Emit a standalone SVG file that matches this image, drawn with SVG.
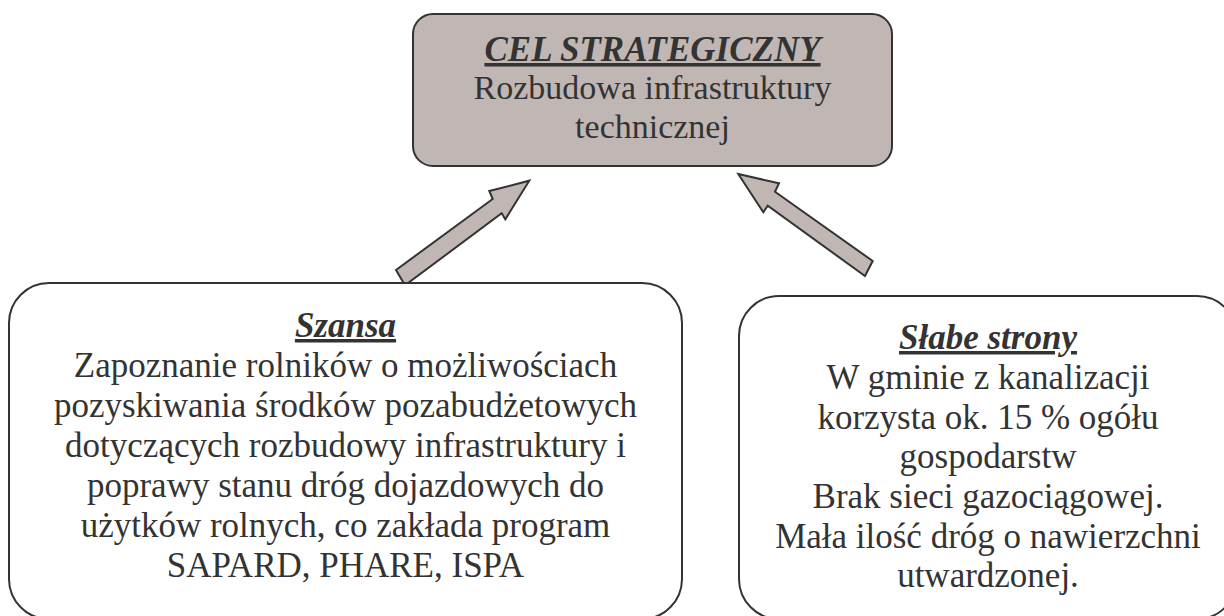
<svg xmlns="http://www.w3.org/2000/svg" width="1224" height="616" viewBox="0 0 1224 616">
<style>
.box{stroke:#333;stroke-width:2}
.goal{fill:#c0b7b4}
.plain{fill:#fff}
text{font-family:'Liberation Serif','DejaVu Serif',serif;font-size:35px;fill:#333;text-anchor:middle}
.s{font-size:34px}
.h{font-weight:bold;font-style:italic;text-decoration:underline;text-decoration-thickness:3px}
.arr{fill:#c0b7b4;stroke:#333;stroke-width:2;stroke-linejoin:miter}
</style>
<rect width="1224" height="616" fill="#fff"/>
<g id="connectors">
<polygon class="arr" points="396,270 492.7,199 489.3,191 529.3,180.7 505.3,219.3 501.7,213.3 405,285.3"/>
<polygon class="arr" points="738.3,174 779,183.3 775,191.7 872.7,261 865,276 767.7,205.7 763.3,212.3"/>
</g>
<g id="cel">
<rect class="box goal" x="413" y="14" width="479" height="152" rx="20"/>
<text class="h" x="652.5" y="61">CEL STRATEGICZNY</text>
<text class="s" x="652.5" y="99">Rozbudowa infrastruktury</text>
<text class="s" x="652.5" y="138">technicznej</text>
</g>
<g id="szansa">
<rect class="box plain" x="9" y="283" width="673" height="336" rx="40"/>
<text class="h" x="345.5" y="337">Szansa</text>
<text x="345.5" y="376.5">Zapoznanie rolników o możliwościach</text>
<text x="345.5" y="416.5">pozyskiwania środków pozabudżetowych</text>
<text x="345.5" y="456.5">dotyczących rozbudowy infrastruktury i</text>
<text x="345.5" y="496.5">poprawy stanu dróg dojazdowych do</text>
<text x="345.5" y="536.5">użytków rolnych, co zakłada program</text>
<text x="345.5" y="576.5">SAPARD, PHARE, ISPA</text>
</g>
<g id="slabe">
<rect class="box plain" x="739" y="296" width="498" height="323" rx="40"/>
<text class="h" x="988" y="349">Słabe strony</text>
<text x="988" y="389">W gminie z kanalizacji</text>
<text x="988" y="428.5">korzysta ok. 15 % ogółu</text>
<text x="988" y="468">gospodarstw</text>
<text x="988" y="508">Brak sieci gazociągowej.</text>
<text x="988" y="547.5">Mała ilość dróg o nawierzchni</text>
<text x="988" y="587">utwardzonej.</text>
</g>
</svg>
